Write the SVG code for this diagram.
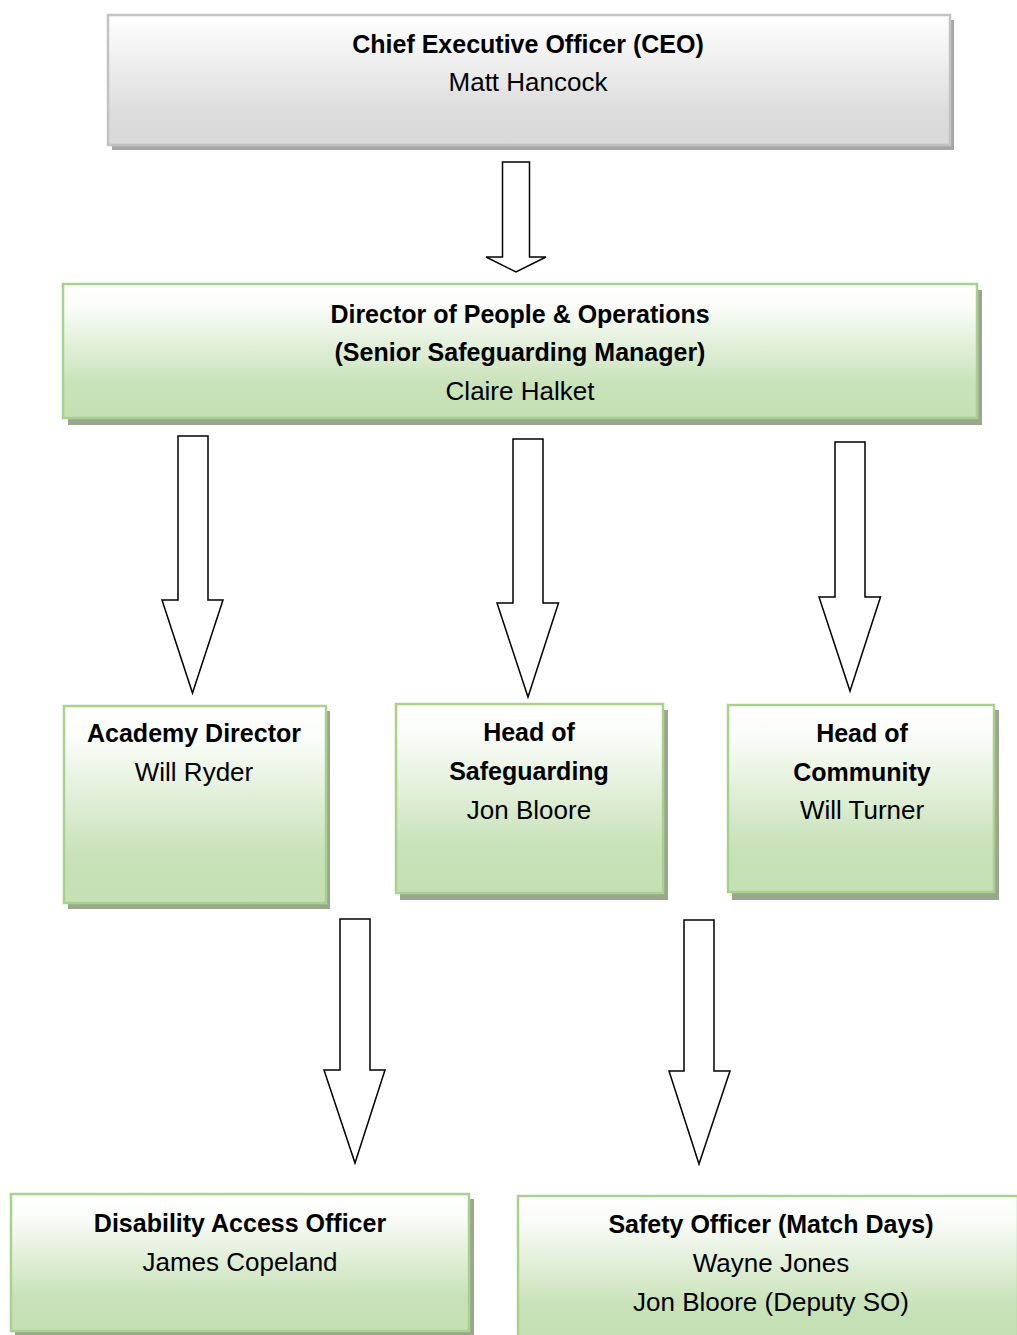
<svg xmlns="http://www.w3.org/2000/svg" width="1017" height="1335" viewBox="0 0 1017 1335">
<defs>
<linearGradient id="gGray" x1="0" y1="0" x2="0" y2="1">
<stop offset="0" stop-color="#ffffff"/>
<stop offset="0.2" stop-color="#f6f6f6"/>
<stop offset="0.75" stop-color="#dcdcdc"/>
<stop offset="1" stop-color="#d9d9d9"/>
</linearGradient>
<linearGradient id="gGreen" x1="0" y1="0" x2="0" y2="1">
<stop offset="0" stop-color="#ffffff"/>
<stop offset="0.15" stop-color="#fbfdfa"/>
<stop offset="0.75" stop-color="#c9e2b9"/>
<stop offset="1" stop-color="#c5e0b4"/>
</linearGradient>
<style>
.shadowG{fill:#a6a6a6;}
.shadowN{fill:#99a88c;}
.boxG{fill:url(#gGray);stroke:#c3c3c3;stroke-width:2.5;}
.boxN{fill:url(#gGreen);stroke:#a9d18e;stroke-width:2.5;}
.arrow{fill:#ffffff;stroke:#000000;stroke-width:1.5;stroke-linejoin:miter;}
text{font-family:"Liberation Sans",Arial,sans-serif;fill:#000000;text-anchor:middle;}
.t{font-weight:bold;font-size:25px;}
.n{font-size:26px;}
</style>
</defs>
<rect width="1017" height="1335" fill="#ffffff"/>

<g id="ceo">
<rect class="shadowG" x="112" y="20" width="842" height="130"/>
<rect class="boxG" x="108" y="15" width="842" height="130"/>
<text class="t" x="528" y="53">Chief Executive Officer (CEO)</text>
<text class="n" x="528" y="91">Matt Hancock</text>
</g>

<g id="director">
<rect class="shadowN" x="68" y="290" width="914" height="135"/>
<rect class="boxN" x="63" y="284" width="914" height="134"/>
<text class="t" x="520" y="323">Director of People &amp; Operations</text>
<text class="t" x="520" y="361">(Senior Safeguarding Manager)</text>
<text class="n" x="520" y="400">Claire Halket</text>
</g>

<g id="academy">
<rect class="shadowN" x="68" y="711" width="262" height="198"/>
<rect class="boxN" x="64" y="706" width="262" height="197"/>
<text class="t" x="194" y="742">Academy Director</text>
<text class="n" x="194" y="781">Will Ryder</text>
</g>

<g id="safeguarding">
<rect class="shadowN" x="400" y="710" width="268" height="190"/>
<rect class="boxN" x="396" y="704" width="267" height="189"/>
<text class="t" x="529" y="741">Head of</text>
<text class="t" x="529" y="780">Safeguarding</text>
<text class="n" x="529" y="819">Jon Bloore</text>
</g>

<g id="community">
<rect class="shadowN" x="732" y="710" width="267" height="190"/>
<rect class="boxN" x="728" y="705" width="266" height="187"/>
<text class="t" x="862" y="742">Head of</text>
<text class="t" x="862" y="781">Community</text>
<text class="n" x="862" y="819">Will Turner</text>
</g>

<g id="disability">
<rect class="shadowN" x="15" y="1199" width="459" height="137"/>
<rect class="boxN" x="11" y="1194" width="458" height="137"/>
<text class="t" x="240" y="1232">Disability Access Officer</text>
<text class="n" x="240" y="1271">James Copeland</text>
</g>

<g id="safety">
<rect class="shadowN" x="522" y="1201" width="500" height="140"/>
<rect class="boxN" x="518" y="1196" width="500" height="145"/>
<text class="t" x="771" y="1233">Safety Officer (Match Days)</text>
<text class="n" x="771" y="1272">Wayne Jones</text>
<text class="n" x="771" y="1311">Jon Bloore (Deputy SO)</text>
</g>

<g id="connectors">
<polygon class="arrow" points="502.5,162 529.5,162 529.5,257 546,257 516,272 486,257 502.5,257"/>
<polygon class="arrow" points="178,436 208,436 208,600 223,600 192.5,693 162,600 178,600"/>
<polygon class="arrow" points="513,439 543,439 543,603 558.5,603 528,697 497,603 513,603"/>
<polygon class="arrow" points="835,442 865,442 865,597 880.5,597 850,691 819,597 835,597"/>
<polygon class="arrow" points="340,919 370,919 370,1070 385,1070 355,1163 324,1070 340,1070"/>
<polygon class="arrow" points="684,920 714,920 714,1071 730,1071 699,1164 669,1071 684,1071"/>
</g>
</svg>
